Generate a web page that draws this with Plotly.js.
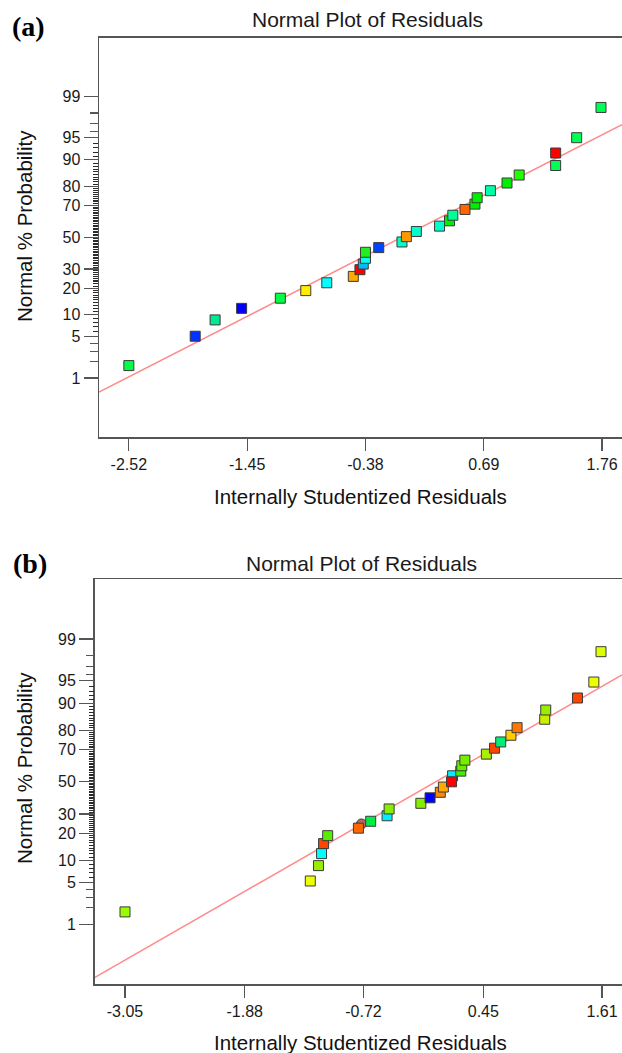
<!DOCTYPE html>
<html>
<head>
<meta charset="utf-8">
<script src="https://cdn.plot.ly/plotly-3.0.1.min.js"></script>
<style>html,body{margin:0;padding:0;background:#fff;}#chart{width:622px;height:1053px;}</style>
</head>
<body>
<div id="chart"></div>
<script>
// ---------- data ----------
const probTicks = [1, 5, 10, 20, 30, 50, 70, 80, 90, 95, 99];
const probMidTicks = [2, 3, 4, 96, 97, 98];

// Panel (a)
const aXTicks = [-2.52, -1.45, -0.38, 0.69, 1.76];
const aRes = [-2.52, -1.92, -1.74, -1.50, -1.15, -0.92, -0.73, -0.49, -0.43, -0.40, -0.38, -0.38, -0.26, -0.05, -0.01, 0.08, 0.29, 0.38, 0.41, 0.52, 0.61, 0.63, 0.75, 0.90, 1.01, 1.34, 1.34, 1.53, 1.75];
const aProb = [1.7, 5.1, 8.6, 12.0, 15.7, 18.9, 22.6, 25.9, 29.6, 32.9, 36.4, 40.2, 43.2, 46.9, 50.4, 53.8, 57.3, 60.7, 64.2, 67.7, 70.8, 74.3, 77.9, 81.5, 84.8, 88.2, 91.8, 95.0, 98.4];
const aColor = ['#00ff44', '#0033ff', '#00e890', '#0000ff', '#00ff44', '#ffee00', '#00ffff', '#ffaa00', '#ff0000', '#00bbff', '#00ffee', '#22ee22', '#0044ff', '#00ffcc', '#ff9900', '#00ffcc', '#00ffcc', '#00ee00', '#00ff99', '#ff6600', '#00ee00', '#00ee00', '#00ffaa', '#00ee00', '#22ff00', '#00ff55', '#ff0000', '#00ff55', '#00ff55'];
const aLineRes = [-2.79, 1.94];
const aLineProb = [0.526, 96.86];

// Panel (b)
const bXTicks = [-3.05, -1.88, -0.72, 0.45, 1.61];
const bRes = [-3.05, -1.24, -1.16, -1.13, -1.11, -1.07, -0.74, -0.77, -0.65, -0.49, -0.47, -0.16, -0.07, 0.03, 0.06, 0.15, 0.14, 0.23, 0.24, 0.27, 0.48, 0.56, 0.62, 0.72, 0.78, 1.05, 1.06, 1.37, 1.53, 1.60];
const bProb = [1.7, 5.3, 8.6, 12.1, 15.7, 19.0, 24.6, 22.5, 26.0, 29.0, 32.9, 36.3, 39.7, 43.2, 46.6, 53.9, 50.0, 56.9, 60.3, 63.8, 67.4, 70.8, 74.2, 77.6, 81.1, 84.6, 87.9, 91.4, 94.8, 98.3];
const bColor = ['#99ff00', '#eeff00', '#99ee00', '#00ffff', '#ff4400', '#55ee00', '#c06060', '#ff6600', '#00ee44', '#00eeff', '#88ee00', '#88ee00', '#0000ff', '#ff8800', '#ffaa00', '#00eeff', '#ff0000', '#44ee00', '#66ee00', '#77ee00', '#aaee00', '#ff4400', '#00ee77', '#ffcc00', '#ff7700', '#ccee00', '#99ee00', '#ff4400', '#eeff00', '#ddff00'];
const bSymbol = ['square', 'square', 'square', 'square', 'square', 'square', 'circle', 'square', 'square', 'square', 'square', 'square', 'square', 'square', 'square', 'square', 'square', 'square', 'square', 'square', 'square', 'square', 'square', 'square', 'square', 'square', 'square', 'square', 'square', 'square'];
const bLineRes = [-3.348, 1.805];
const bLineProb = [0.0711, 95.93];

// ---------- normal probability scale ----------
function probit(p) {
  const a = [-3.969683028665376e+01, 2.209460984245205e+02, -2.759285104469687e+02, 1.383577518672690e+02, -3.066479806614716e+01, 2.506628277459239e+00];
  const b = [-5.447609879822406e+01, 1.615858368580409e+02, -1.556989798598866e+02, 6.680131188771972e+01, -1.328068155288572e+01];
  const c = [-7.784894002430293e-03, -3.223964580411365e-01, -2.400758277161838e+00, -2.549732539343734e+00, 4.374664141464968e+00, 2.938163982698783e+00];
  const d = [7.784695709041462e-03, 3.224671290700398e-01, 2.445134137142996e+00, 3.754408661907416e+00];
  const pl = 0.02425, ph = 1 - pl;
  let q, r;
  if (p < pl) {
    q = Math.sqrt(-2 * Math.log(p));
    return (((((c[0]*q+c[1])*q+c[2])*q+c[3])*q+c[4])*q+c[5]) / ((((d[0]*q+d[1])*q+d[2])*q+d[3])*q+1);
  } else if (p <= ph) {
    q = p - 0.5; r = q*q;
    return (((((a[0]*r+a[1])*r+a[2])*r+a[3])*r+a[4])*r+a[5])*q / (((((b[0]*r+b[1])*r+b[2])*r+b[3])*r+b[4])*r+1);
  } else {
    q = Math.sqrt(-2 * Math.log(1 - p));
    return -(((((c[0]*q+c[1])*q+c[2])*q+c[3])*q+c[4])*q+c[5]) / ((((d[0]*q+d[1])*q+d[2])*q+d[3])*q+1);
  }
}
const z = arr => arr.map(v => probit(v / 100));

const denseTicks = [];
for (let v = 6; v <= 94; v++) if (probTicks.indexOf(v) < 0) denseTicks.push(v);

// ---------- layout helpers ----------
const W = 622, H = 1053;
const px = v => v / W;
const py = v => 1 - v / H;
const FONT = 'Liberation Sans, Arial, sans-serif';
const AXC = '#555555';

function pointTrace(xs, ps, colors, symbols, xa, ya) {
  return {
    type: 'scatter', mode: 'markers', x: xs, y: z(ps), xaxis: xa, yaxis: ya,
    marker: { symbol: symbols, size: 10, color: colors, line: { color: '#3a3a3a', width: 1 } },
    hoverinfo: 'x+y', showlegend: false, cliponaxis: false
  };
}
function lineTrace(xs, ps, xa, ya) {
  return {
    type: 'scatter', mode: 'lines', x: xs, y: z(ps), xaxis: xa, yaxis: ya,
    line: { color: '#ff8a8a', width: 1.5 }, hoverinfo: 'skip', showlegend: false
  };
}
// empty holder so that an overlay tick axis gets drawn (no visible mark)
function axisHolder(xa, ya) {
  return { type: 'scatter', mode: 'markers', x: [null], y: [null], xaxis: xa, yaxis: ya,
           marker: { opacity: 0 }, hoverinfo: 'skip', showlegend: false };
}

const data = [
  lineTrace(aLineRes, aLineProb, 'x', 'y'),
  pointTrace(aRes, aProb, aColor, 'square', 'x', 'y'),
  lineTrace(bLineRes, bLineProb, 'x2', 'y2'),
  pointTrace(bRes, bProb, bColor, bSymbol, 'x2', 'y2'),
  axisHolder('x', 'y3'), axisHolder('x', 'y4'),
  axisHolder('x2', 'y5'), axisHolder('x2', 'y6')
];

const TICKFONT = { family: FONT, size: 16, color: '#1a1a1a' };

function xAxis(domain, range, ticks, anchor) {
  return {
    domain: domain, range: range, anchor: anchor,
    tickmode: 'array', tickvals: ticks, ticktext: ticks.map(v => v.toFixed(2)),
    ticks: 'outside', ticklen: 12, tickwidth: 1.2, tickcolor: AXC,
    showline: true, linecolor: AXC, linewidth: 1.5, mirror: true,
    showgrid: false, zeroline: false, tickfont: TICKFONT
  };
}
function yAxis(domain, anchor) {
  return {
    domain: domain, range: [-3.3, 3.3], anchor: anchor,
    tickmode: 'array', tickvals: z(probTicks), ticktext: probTicks.map(String),
    ticks: 'outside', ticklen: 14, tickwidth: 1.2, tickcolor: AXC,
    showline: true, linecolor: AXC, linewidth: 1.5, mirror: false,
    showgrid: false, zeroline: false, tickfont: TICKFONT
  };
}
function yTickOverlay(over, domain, anchor, vals, len, color, lw) {
  return {
    overlaying: over, domain: domain, range: [-3.3, 3.3], autorange: false, anchor: anchor, side: 'left',
    tickmode: 'array', tickvals: z(vals), ticktext: vals.map(() => ''), showticklabels: false,
    ticks: 'outside', ticklen: len, tickwidth: lw, tickcolor: color,
    showline: false, showgrid: false, zeroline: false
  };
}

const aLeft = 99, bLeft = 94.5;
const aX = [px(aLeft), 1], aY = [py(437), py(37.5)];
const bX = [px(bLeft), 1], bY = [py(984.3), py(579.3)];

const titleFont = { family: FONT, size: 21, color: '#1a1a1a' };
const axTitleFont = { family: FONT, size: 20.5, color: '#111' };
const panelFont = { family: 'Liberation Serif, Times New Roman, serif', size: 28, color: '#000' };

function ann(text, x, y, font, angle) {
  return { text: text, xref: 'paper', yref: 'paper', x: px(x), y: py(y), xanchor: 'center', yanchor: 'middle', showarrow: false, font: font, textangle: angle || 0 };
}

const layout = {
  width: W, height: H,
  margin: { l: 0, r: 0, t: 0, b: 0 },
  paper_bgcolor: '#ffffff', plot_bgcolor: '#ffffff',
  showlegend: false,
  xaxis: xAxis(aX, [-2.79, 1.94], aXTicks, 'y'),
  yaxis: yAxis(aY, 'x'),
  xaxis2: xAxis(bX, [-3.348, 1.805], bXTicks, 'y2'),
  yaxis2: yAxis(bY, 'x2'),
  yaxis3: yTickOverlay('y', aY, 'x', denseTicks, 5, '#2a2a2a', 1),
  yaxis4: yTickOverlay('y', aY, 'x', probMidTicks, 8, AXC, 1.2),
  yaxis5: yTickOverlay('y2', bY, 'x2', denseTicks, 5, '#2a2a2a', 1),
  yaxis6: yTickOverlay('y2', bY, 'x2', probMidTicks, 8, AXC, 1.2),
  annotations: [
    ann('<b>(a)</b>', 28, 26, panelFont),
    ann('Normal Plot of Residuals', 367, 20, titleFont),
    ann('Internally Studentized Residuals', 360, 497, axTitleFont),
    ann('Normal % Probability', 24, 226, axTitleFont, -90),
    ann('<b>(b)</b>', 30, 563, panelFont),
    ann('Normal Plot of Residuals', 361, 563, titleFont),
    ann('Internally Studentized Residuals', 360, 1042, axTitleFont),
    ann('Normal % Probability', 24, 768, axTitleFont, -90)
  ]
};

Plotly.newPlot('chart', data, layout, { displayModeBar: false, staticPlot: true });
</script>
</body>
</html>
